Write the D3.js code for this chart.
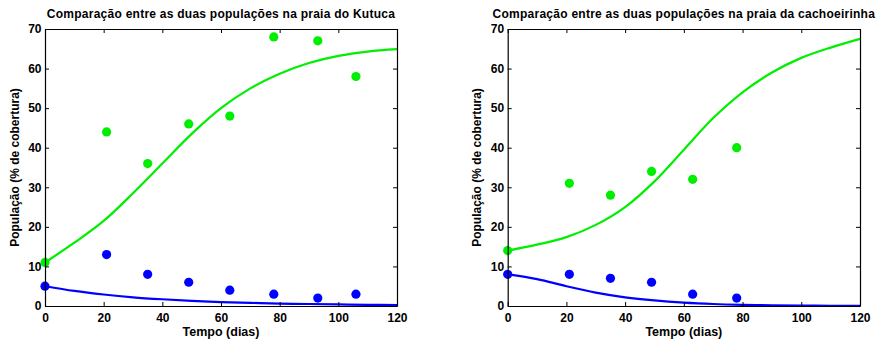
<!DOCTYPE html>
<html>
<head>
<meta charset="utf-8">
<script src="https://cdn.jsdelivr.net/npm/d3@7"></script>
<style>
  body { margin: 0; background: #fff; }
  text { font-family: "Liberation Sans", Arial, sans-serif; font-weight: bold; }
</style>
</head>
<body>
<svg id="chart" width="885" height="343"></svg>
<script>
let width = 885, height = 343;

// sample days (observations)
let diasKutuca = [0, 21, 35, 49, 63, 78, 93, 106];
let verdeKutuca = [11, 44, 36, 46, 48, 68, 67, 58];
let azulKutuca = [5, 13, 8, 6, 4, 3, 2, 3];

let diasCach = [0, 21, 35, 49, 63, 78];
let verdeCach = [14, 31, 28, 34, 32, 40];
let azulCach = [8, 8, 7, 6, 3, 2];

// model curves, every 10 days
let tempoModelo = [0, 10, 20, 30, 40, 50, 60, 70, 80, 90, 100, 110, 120];
let verdeModeloKutuca = [11, 16, 21.5, 28.5, 36, 43.5, 50, 55, 58.7, 61.4, 63.2, 64.3, 64.9];
let azulModeloKutuca = [5, 3.8, 2.9, 2.2, 1.7, 1.3, 1.0, 0.8, 0.6, 0.5, 0.4, 0.3, 0.25];
let verdeModeloCach = [14, 15.5, 17.4, 20.5, 25, 31.5, 39.5, 47.5, 54, 59, 62.7, 65.3, 67.5];
let azulModeloCach = [8, 6.8, 5.0, 3.4, 2.2, 1.4, 0.85, 0.5, 0.3, 0.18, 0.1, 0.06, 0.04];

let xTicks = [0, 20, 40, 60, 80, 100, 120];
let yTicks = [0, 10, 20, 30, 40, 50, 60, 70];

let titulos = ["Compara\u00e7\u00e3o entre as duas popula\u00e7\u00f5es na praia do Kutuca",
               "Compara\u00e7\u00e3o entre as duas popula\u00e7\u00f5es na praia da cachoeirinha"];

let verde = "#00ee00", azul = "#0000ff";

let svg = d3.select("#chart");

function drawPanel(left, right, titulo, dias, verdePts, azulPts, verdeMod, azulMod) {
    let top = 29, bottom = 306;
    let x = d3.scaleLinear().domain([0, 120]).range([left, right]);
    let y = d3.scaleLinear().domain([0, 70]).range([bottom, top]);
    let g = svg.append("g");

    let line = d3.line()
        .x((d, i) => x(tempoModelo[i]))
        .y(d => y(d))
        .curve(d3.curveCatmullRom);

    g.append("path").attr("d", line(verdeMod))
        .attr("fill", "none").attr("stroke", verde).attr("stroke-width", 2.2);
    g.append("path").attr("d", line(azulMod))
        .attr("fill", "none").attr("stroke", azul).attr("stroke-width", 2.2);

    g.selectAll(".pv").data(verdePts).enter().append("circle")
        .attr("cx", (d, i) => x(dias[i])).attr("cy", d => y(d))
        .attr("r", 4.6).attr("fill", verde);
    g.selectAll(".pa").data(azulPts).enter().append("circle")
        .attr("cx", (d, i) => x(dias[i])).attr("cy", d => y(d))
        .attr("r", 4.6).attr("fill", azul);

    // axes, ticks inside (box on)
    let tickLen = 4;
    g.append("g").attr("transform", `translate(0,${bottom})`)
        .call(d3.axisBottom(x).tickValues(xTicks).tickSizeInner(-tickLen).tickSizeOuter(0).tickPadding(7.5));
    g.append("g").attr("transform", `translate(0,${top})`)
        .call(d3.axisTop(x).tickValues(xTicks).tickSizeInner(-tickLen).tickSizeOuter(0).tickFormat(""));
    g.append("g").attr("transform", `translate(${left},0)`)
        .call(d3.axisLeft(y).tickValues(yTicks).tickSizeInner(-tickLen).tickSizeOuter(0).tickPadding(3.5));
    g.append("g").attr("transform", `translate(${right},0)`)
        .call(d3.axisRight(y).tickValues(yTicks).tickSizeInner(-tickLen).tickSizeOuter(0).tickFormat(""));

    g.selectAll(".domain").attr("stroke", "#000").attr("stroke-width", 1.2);
    g.selectAll(".tick line").attr("stroke", "#000");
    g.selectAll(".tick text").attr("font-size", 12).attr("font-weight", "bold")
        .attr("font-family", "Liberation Sans, Arial, sans-serif").attr("fill", "#000");

    g.append("text").attr("x", (left + right) / 2).attr("y", 17.5)
        .attr("text-anchor", "middle").attr("font-size", 12)
        .attr("letter-spacing", 0.25).text(titulo);
    g.append("text").attr("x", (left + right) / 2).attr("y", 335.5)
        .attr("text-anchor", "middle").attr("font-size", 12.5).text("Tempo (dias)");
    g.append("text")
        .attr("transform", `translate(${left - 26.5},${(top + bottom) / 2}) rotate(-90)`)
        .attr("text-anchor", "middle").attr("font-size", 12)
        .text("Popula\u00e7\u00e3o (% de cobertura)");
}

drawPanel(45, 397, titulos[0], diasKutuca, verdeKutuca, azulKutuca, verdeModeloKutuca, azulModeloKutuca);
drawPanel(507.7, 860, titulos[1], diasCach, verdeCach, azulCach, verdeModeloCach, azulModeloCach);
</script>
</body>
</html>
